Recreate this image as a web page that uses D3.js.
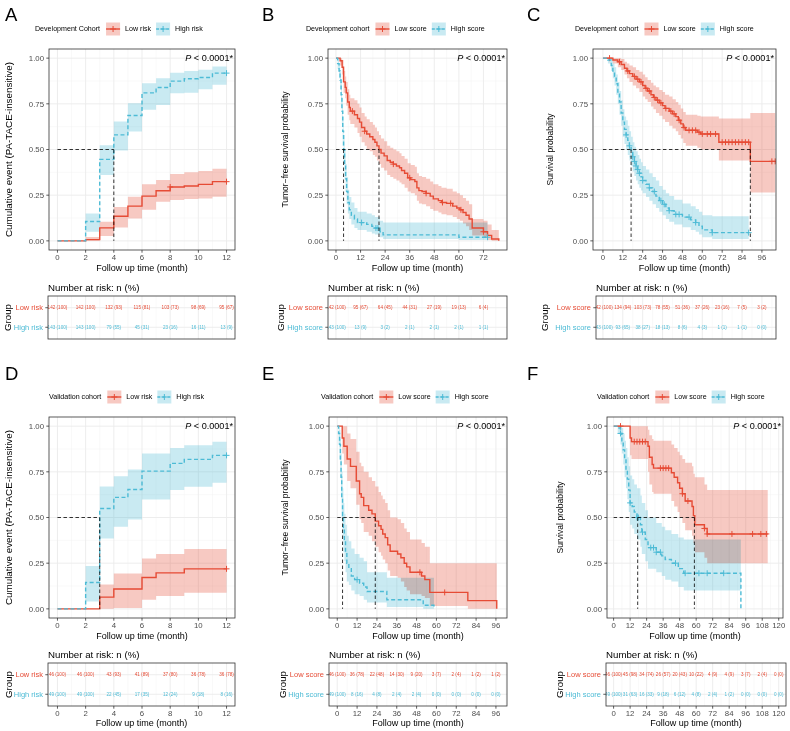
<!DOCTYPE html>
<html><head><meta charset="utf-8">
<script src="https://cdn.jsdelivr.net/npm/d3@7"></script>
<style>
body{margin:0;background:#fff}
svg text{font-family:"Liberation Sans",Arial,sans-serif}
</style></head><body>
<svg id="c" width="790" height="731"></svg>
<script>
// ---------------- DATA ----------------
// steps: [time, estimate, lower CI, upper CI]
const yTicks = [0, 0.25, 0.5, 0.75, 1];
const yMinor = [0.125, 0.375, 0.625, 0.875];

// Panel A (cumulative event)
const A_xTicks = [0, 2, 4, 6, 8, 10, 12];
const A_low = [[0,0,0,0],[2,0.007,0,0.021],[3,0.071,0.026,0.104],[4,0.135,0.073,0.186],[5,0.19,0.122,0.241],[6,0.245,0.17,0.31],[7,0.274,0.214,0.333],[8,0.295,0.223,0.366],[9,0.30,0.229,0.375],[10,0.309,0.232,0.382],[11,0.324,0.241,0.395]];
const A_lowEnd = 12;
const A_lowCensor = [8, 12];
const A_high = [[0,0,0,0],[2,0.106,0.05,0.15],[3,0.446,0.36,0.523],[4,0.58,0.494,0.653],[5,0.686,0.598,0.753],[6,0.81,0.717,0.863],[7,0.839,0.744,0.89],[8,0.874,0.808,0.92],[9,0.887,0.81,0.93],[10,0.894,0.83,0.936],[11,0.918,0.854,0.954]];
const A_highEnd = 12;
const A_highCensor = [12];
const A_medians = [4];
const A_riskTimes = [0, 2, 4, 6, 8, 10, 12];
const A_riskLow = ["142 (100)","142 (100)","132 (93)","115 (81)","103 (73)","98 (69)","95 (67)"];
const A_riskHigh = ["143 (100)","143 (100)","79 (55)","45 (31)","23 (16)","16 (11)","13 (9)"];

// Panel B (tumor-free survival, development)
const B_xTicks = [0, 12, 24, 36, 48, 60, 72];
const B_low = [[0,1,1,1],[2,0.986,0.96,1],[3,0.95,0.91,0.99],[3.7,0.87,0.81,0.93],[4.5,0.84,0.78,0.9],[5,0.81,0.74,0.87],[5.7,0.76,0.69,0.83],[6.5,0.73,0.66,0.80],[7,0.71,0.64,0.78],[9,0.69,0.62,0.77],[10.5,0.67,0.59,0.75],[11.5,0.65,0.57,0.73],[12.5,0.62,0.54,0.70],[14,0.60,0.52,0.68],[15,0.585,0.5,0.665],[16.5,0.57,0.49,0.65],[18,0.555,0.47,0.635],[19,0.54,0.46,0.62],[20,0.52,0.44,0.60],[21,0.50,0.42,0.58],[22,0.48,0.40,0.56],[23.5,0.465,0.385,0.545],[25,0.44,0.36,0.52],[26.5,0.43,0.35,0.51],[28,0.42,0.34,0.50],[29.5,0.41,0.33,0.49],[31,0.40,0.32,0.48],[32,0.385,0.31,0.465],[33.5,0.37,0.29,0.45],[35,0.345,0.27,0.425],[36.5,0.335,0.26,0.415],[38.5,0.325,0.25,0.405],[39.5,0.29,0.22,0.37],[40.5,0.275,0.205,0.355],[42,0.27,0.2,0.35],[44,0.26,0.19,0.34],[46,0.245,0.175,0.325],[47.5,0.23,0.165,0.31],[50,0.22,0.155,0.30],[51.5,0.21,0.145,0.29],[54,0.205,0.14,0.285],[57,0.19,0.13,0.27],[59,0.18,0.12,0.26],[60.5,0.17,0.11,0.25],[62,0.155,0.095,0.235],[63.5,0.14,0.08,0.22],[65,0.12,0.06,0.20],[66.5,0.07,0.03,0.12],[72,0.05,0.015,0.11],[74,0.03,0.005,0.09],[76,0.01,0,0.06],[79.5,0,0,0]];
const B_lowEnd = 79.5;
const B_lowCensor = [8, 14, 28, 36, 44, 52, 56, 61, 72];
const B_high = [[0,1,1,1],[0.8,0.97,0.94,1],[1.5,0.93,0.89,0.97],[2,0.88,0.83,0.93],[2.5,0.80,0.74,0.87],[2.9,0.71,0.64,0.78],[3.3,0.60,0.52,0.68],[3.7,0.50,0.42,0.58],[4.2,0.42,0.34,0.50],[4.7,0.34,0.27,0.42],[5.2,0.27,0.2,0.35],[5.8,0.21,0.15,0.28],[6.5,0.17,0.12,0.24],[7.5,0.14,0.09,0.21],[9,0.12,0.07,0.18],[10.5,0.10,0.06,0.16],[15,0.09,0.05,0.15],[17.5,0.08,0.04,0.14],[19,0.07,0.035,0.13],[21.5,0.05,0.02,0.11],[23,0.033,0.01,0.10],[60,0.02,0.005,0.10]];
const B_highEnd = 74;
const B_highCensor = [12.5, 19.5, 20.5, 74];
const B_medians = [3.7, 21];
const B_riskTimes = [0, 12, 24, 36, 48, 60, 72];
const B_riskLow = ["142 (100)","95 (67)","64 (45)","44 (31)","27 (19)","19 (13)","6 (4)"];
const B_riskHigh = ["143 (100)","13 (9)","3 (2)","2 (1)","2 (1)","2 (1)","1 (1)"];

// Panel C (overall survival, development)
const C_xTicks = [0, 12, 24, 36, 48, 60, 72, 84, 96];
const C_low = [[0,1,1,1],[6,0.99,0.97,1],[9,0.98,0.95,1],[11,0.965,0.935,0.995],[13,0.945,0.91,0.98],[14.5,0.93,0.89,0.97],[16,0.915,0.87,0.96],[18,0.90,0.85,0.95],[20,0.885,0.835,0.935],[22,0.87,0.815,0.925],[24,0.85,0.79,0.91],[25.5,0.835,0.775,0.895],[27,0.82,0.76,0.88],[29,0.80,0.735,0.865],[30.5,0.785,0.72,0.85],[32,0.77,0.70,0.84],[34,0.755,0.685,0.825],[36,0.74,0.665,0.815],[37.5,0.725,0.65,0.80],[40,0.71,0.63,0.79],[42,0.695,0.615,0.775],[44,0.68,0.60,0.76],[45.5,0.66,0.58,0.745],[47,0.64,0.56,0.725],[48.5,0.62,0.535,0.705],[50,0.605,0.52,0.69],[57,0.595,0.51,0.685],[59,0.585,0.50,0.68],[70,0.54,0.44,0.67],[89,0.435,0.265,0.70]];
const C_lowEnd = 104;
const C_lowCensor = [4, 10, 15, 19, 21, 23, 26, 28, 31, 33, 35, 38, 41, 43, 46, 49, 52, 54, 56, 58, 60, 63, 65, 68, 72, 74, 76, 78, 80, 82, 84, 86, 88, 102, 104];
const C_high = [[0,1,1,1],[3,0.99,0.97,1],[5,0.96,0.93,0.99],[6,0.93,0.89,0.97],[7,0.90,0.85,0.95],[8,0.86,0.80,0.91],[9,0.81,0.75,0.87],[10,0.76,0.69,0.82],[11,0.70,0.63,0.77],[12,0.65,0.57,0.72],[13,0.61,0.53,0.68],[14,0.58,0.50,0.66],[15,0.55,0.47,0.63],[16,0.52,0.44,0.60],[17,0.49,0.41,0.57],[18,0.46,0.38,0.54],[19,0.435,0.355,0.515],[20,0.41,0.33,0.49],[21,0.39,0.31,0.47],[22,0.37,0.29,0.45],[23,0.35,0.275,0.43],[24,0.33,0.26,0.41],[26,0.31,0.24,0.39],[28,0.29,0.22,0.37],[30,0.27,0.20,0.35],[32,0.245,0.18,0.33],[34,0.22,0.16,0.30],[36,0.20,0.14,0.28],[38,0.18,0.12,0.26],[40,0.165,0.105,0.245],[43,0.145,0.09,0.225],[48,0.13,0.075,0.205],[53,0.115,0.06,0.19],[56,0.10,0.05,0.175],[58,0.08,0.035,0.16],[60,0.06,0.02,0.14],[66,0.045,0.01,0.135]];
const C_highEnd = 88;
const C_highCensor = [14, 16, 18, 19, 20, 21, 22, 24, 28, 31, 35, 37, 40, 44, 46, 52, 56, 66, 88];
const C_medians = [17, 89];
const C_riskTimes = [0, 12, 24, 36, 48, 60, 72, 84, 96];
const C_riskLow = ["142 (100)","134 (94)","103 (73)","78 (55)","51 (36)","37 (26)","23 (16)","7 (5)","3 (2)"];
const C_riskHigh = ["143 (100)","93 (65)","38 (27)","18 (13)","8 (6)","4 (3)","1 (1)","1 (1)","0 (0)"];

// Panel D (cumulative event, validation)
const D_xTicks = [0, 2, 4, 6, 8, 10, 12];
const D_low = [[0,0,0,0],[3,0.064,0,0.133],[4,0.109,0.005,0.193],[6,0.172,0.05,0.276],[7,0.197,0.07,0.30],[9,0.219,0.088,0.328]];
const D_lowEnd = 12;
const D_lowCensor = [12];
const D_high = [[0,0,0,0],[2,0.144,0.04,0.234],[3,0.549,0.385,0.67],[4,0.61,0.449,0.726],[5,0.653,0.489,0.763],[6,0.754,0.599,0.85],[8,0.796,0.65,0.88],[9,0.818,0.668,0.896],[11,0.84,0.69,0.914]];
const D_highEnd = 12;
const D_highCensor = [12];
const D_medians = [3];
const D_riskTimes = [0, 2, 4, 6, 8, 10, 12];
const D_riskLow = ["46 (100)","46 (100)","43 (93)","41 (89)","37 (80)","36 (78)","36 (78)"];
const D_riskHigh = ["49 (100)","49 (100)","22 (45)","17 (35)","12 (24)","9 (18)","8 (16)"];

// Panel E (tumor-free survival, validation)
const E_xTicks = [0, 12, 24, 36, 48, 60, 72, 84, 96];
const E_low = [[0,1,1,1],[3,0.935,0.85,1],[4,0.89,0.79,1],[6,0.82,0.70,0.96],[8,0.78,0.66,0.93],[11.5,0.70,0.57,0.86],[13.5,0.63,0.49,0.80],[14.5,0.61,0.47,0.78],[16,0.565,0.42,0.75],[19,0.54,0.40,0.72],[21,0.52,0.37,0.70],[23,0.48,0.34,0.67],[25,0.455,0.31,0.64],[26.5,0.435,0.29,0.62],[27.5,0.41,0.27,0.60],[29,0.39,0.25,0.58],[30.5,0.35,0.21,0.54],[32,0.315,0.18,0.50],[36.5,0.30,0.17,0.49],[38.5,0.28,0.15,0.47],[40.5,0.25,0.12,0.44],[42,0.23,0.10,0.42],[44,0.20,0.08,0.38],[51,0.18,0.07,0.36],[53,0.16,0.06,0.34],[56,0.09,0.015,0.25],[79,0.045,0,0.25],[96.5,0,0,0]];
const E_lowEnd = 96.5;
const E_lowCensor = [50, 65];
const E_high = [[0,1,1,1],[0.8,0.96,0.90,1],[1.4,0.90,0.82,0.98],[1.9,0.82,0.72,0.93],[2.3,0.72,0.61,0.85],[2.7,0.61,0.49,0.75],[3.2,0.51,0.39,0.66],[3.7,0.43,0.31,0.58],[4.3,0.37,0.26,0.52],[5,0.31,0.20,0.46],[5.8,0.25,0.15,0.40],[7,0.22,0.13,0.37],[8.5,0.18,0.10,0.33],[10.5,0.16,0.08,0.30],[13.5,0.14,0.07,0.28],[16,0.12,0.05,0.26],[18,0.095,0.035,0.20],[30,0.05,0.01,0.17],[52,0.02,0,0.17],[58.5,0,0,0]];
const E_highEnd = 58.5;
const E_highCensor = [12];
const E_medians = [3.2, 23];
const E_riskTimes = [0, 12, 24, 36, 48, 60, 72, 84, 96];
const E_riskLow = ["46 (100)","36 (78)","22 (48)","14 (30)","9 (20)","3 (7)","2 (4)","1 (2)","1 (2)"];
const E_riskHigh = ["49 (100)","8 (16)","4 (8)","2 (4)","2 (4)","0 (0)","0 (0)","0 (0)","0 (0)"];

// Panel F (overall survival, validation)
const F_xTicks = [0, 12, 24, 36, 48, 60, 72, 84, 96, 108, 120];
const F_low = [[0,1,1,1],[12,0.935,0.84,1],[13,0.915,0.82,1],[25,0.89,0.75,0.98],[26,0.83,0.68,0.95],[28,0.79,0.64,0.93],[29,0.77,0.63,0.92],[42,0.745,0.59,0.90],[44,0.72,0.56,0.88],[46.5,0.69,0.53,0.86],[48,0.66,0.50,0.84],[50,0.63,0.47,0.82],[52,0.59,0.43,0.80],[57,0.56,0.40,0.78],[58,0.51,0.36,0.74],[59,0.46,0.31,0.72],[66,0.44,0.28,0.68],[68,0.41,0.25,0.65]];
const F_lowEnd = 112;
const F_lowCensor = [5, 15, 17, 19, 21, 23, 34, 36, 38, 40, 50, 54, 66, 68, 86, 101, 107, 111];
const F_high = [[0,1,1,1],[3,0.99,0.96,1],[5,0.96,0.90,1],[6,0.92,0.85,0.99],[7,0.87,0.79,0.96],[8,0.82,0.72,0.92],[9,0.76,0.66,0.88],[10,0.71,0.60,0.83],[11,0.65,0.53,0.78],[12,0.58,0.46,0.73],[13.5,0.56,0.44,0.71],[15,0.53,0.41,0.68],[17,0.50,0.38,0.66],[19.5,0.46,0.34,0.62],[20.5,0.42,0.30,0.58],[23,0.38,0.26,0.54],[25,0.335,0.22,0.50],[31,0.31,0.20,0.47],[35,0.29,0.18,0.45],[37.5,0.27,0.16,0.43],[42,0.25,0.15,0.41],[47,0.22,0.12,0.39],[51,0.195,0.10,0.38],[92.5,0,0,0]];
const F_highEnd = 92.5;
const F_highCensor = [5, 12, 17, 18, 21, 27, 29, 31, 34, 45, 52, 62, 68, 80];
const F_medians = [17.5, 58.7];
const F_riskTimes = [0, 12, 24, 36, 48, 60, 72, 84, 96, 108, 120];
const F_riskLow = ["46 (100)","45 (98)","34 (74)","26 (57)","20 (43)","10 (22)","4 (9)","4 (9)","3 (7)","2 (4)","0 (0)"];
const F_riskHigh = ["49 (100)","31 (63)","16 (33)","9 (18)","6 (12)","4 (8)","2 (4)","1 (2)","0 (0)","0 (0)","0 (0)"];

const riskGroups = ["Low risk", "High risk"];
const scoreGroups = ["Low score", "High score"];
const pText = "< 0.0001*";

// ---------------- DRAWING ----------------
const RED = "#E64B35", BLUE = "#4DBBD5";
const svg = d3.select("#c");

function minorOf(ticks, dom) {
  const out = [];
  const step = ticks[1] - ticks[0];
  for (let v = ticks[0] - step / 2; v <= dom[1]; v += step) if (v >= dom[0]) out.push(v);
  return out;
}
function stepVal(steps, t) {
  let v = steps[0][1];
  for (const s of steps) { if (s[0] <= t) v = s[1]; else break; }
  return v;
}

const panels = [
  {id:"A", letter:[5,21], L:49,R:235,T:49,B:250, xdom:[-0.6,12.6], xTicks:A_xTicks,
   curves:[{s:A_low,end:A_lowEnd,c:A_lowCensor,col:RED,dash:null},{s:A_high,end:A_highEnd,c:A_highCensor,col:BLUE,dash:"4,2.5"}],
   medians:A_medians, ytitle:"Cumulative event (PA-TACE-insensitive)", ytx:9, yts:9.8,
   legTitle:"Development Cohort", groups:riskGroups, legX:35, legY:29,
   tab:{L:48,R:235,T:296,B:339,times:A_riskTimes,low:A_riskLow,high:A_riskHigh,axis:false,gx:8}},
  {id:"B", letter:[262,21], L:328,R:507,T:49,B:250, xdom:[-3.9,83.5], xTicks:B_xTicks,
   curves:[{s:B_low,end:B_lowEnd,c:B_lowCensor,col:RED,dash:null},{s:B_high,end:B_highEnd,c:B_highCensor,col:BLUE,dash:"4,2.5"}],
   medians:B_medians, ytitle:"Tumor\u2212free survival probability", ytx:285, yts:8.5,
   legTitle:"Development cohort", groups:scoreGroups, legX:306, legY:29,
   tab:{L:328,R:507,T:296,B:339,times:B_riskTimes,low:B_riskLow,high:B_riskHigh,axis:false,gx:281}},
  {id:"C", letter:[527,21], L:593,R:776,T:49,B:250, xdom:[-6,104.5], xTicks:C_xTicks,
   curves:[{s:C_low,end:C_lowEnd,c:C_lowCensor,col:RED,dash:null},{s:C_high,end:C_highEnd,c:C_highCensor,col:BLUE,dash:"4,2.5"}],
   medians:C_medians, ytitle:"Survival probability", ytx:550, yts:8.6,
   legTitle:"Development cohort", groups:scoreGroups, legX:575, legY:29,
   tab:{L:596,R:776,T:296,B:339,times:C_riskTimes,low:C_riskLow,high:C_riskHigh,axis:false,gx:545}},
  {id:"D", letter:[5,380], L:49,R:235,T:417,B:618, xdom:[-0.6,12.6], xTicks:D_xTicks,
   curves:[{s:D_low,end:D_lowEnd,c:D_lowCensor,col:RED,dash:null},{s:D_high,end:D_highEnd,c:D_highCensor,col:BLUE,dash:"4,2.5"}],
   medians:D_medians, ytitle:"Cumulative event (PA-TACE-insensitive)", ytx:9, yts:9.8,
   legTitle:"Validation cohort", groups:riskGroups, legX:49, legY:397,
   tab:{L:48,R:235,T:663,B:706,times:D_riskTimes,low:D_riskLow,high:D_riskHigh,axis:true,gx:9}},
  {id:"E", letter:[262,380], L:329,R:507,T:417,B:618, xdom:[-5,102.7], xTicks:E_xTicks,
   curves:[{s:E_low,end:E_lowEnd,c:E_lowCensor,col:RED,dash:null},{s:E_high,end:E_highEnd,c:E_highCensor,col:BLUE,dash:"4,2.5"}],
   medians:E_medians, ytitle:"Tumor\u2212free survival probability", ytx:285, yts:8.5,
   legTitle:"Validation cohort", groups:scoreGroups, legX:321, legY:397,
   tab:{L:329,R:507,T:663,B:706,times:E_riskTimes,low:E_riskLow,high:E_riskHigh,axis:true,gx:283}},
  {id:"F", letter:[527,380], L:607,R:783,T:417,B:618, xdom:[-4.8,123.1], xTicks:F_xTicks,
   curves:[{s:F_low,end:F_lowEnd,c:F_lowCensor,col:RED,dash:null},{s:F_high,end:F_highEnd,c:F_highCensor,col:BLUE,dash:"4,2.5"}],
   medians:F_medians, ytitle:"Survival probability", ytx:560, yts:8.6,
   legTitle:"Validation cohort", groups:scoreGroups, legX:597, legY:397,
   tab:{L:606,R:786,T:663,B:706,times:F_riskTimes,low:F_riskLow,high:F_riskHigh,axis:true,gx:560}}
];

const defs = svg.append("defs");

function plusPath(cx, cy, r) {
  return `M${cx - r},${cy}H${cx + r}M${cx},${cy - r}V${cy + r}`;
}

function drawPanel(p) {
  const g = svg.append("g");
  const x = d3.scaleLinear().domain(p.xdom).range([p.L, p.R]);
  const y = d3.scaleLinear().domain([-0.05, 1.05]).range([p.B, p.T]);
  const xMinor = minorOf(p.xTicks, p.xdom);

  defs.append("clipPath").attr("id", "clip" + p.id).append("rect")
    .attr("x", p.L).attr("y", p.T).attr("width", p.R - p.L).attr("height", p.B - p.T);

  g.append("text").attr("x", p.letter[0]).attr("y", p.letter[1]).attr("font-size", 18.5)
    .attr("fill", "#000").text(p.id);

  g.append("rect").attr("x", p.L).attr("y", p.T).attr("width", p.R - p.L).attr("height", p.B - p.T).attr("fill", "#fff");
  const grid = g.append("g");
  xMinor.forEach(v => grid.append("line").attr("x1", x(v)).attr("x2", x(v)).attr("y1", p.T).attr("y2", p.B).attr("stroke", "#F2F2F2").attr("stroke-width", 0.5));
  yMinor.forEach(v => grid.append("line").attr("y1", y(v)).attr("y2", y(v)).attr("x1", p.L).attr("x2", p.R).attr("stroke", "#F2F2F2").attr("stroke-width", 0.5));
  p.xTicks.forEach(v => grid.append("line").attr("x1", x(v)).attr("x2", x(v)).attr("y1", p.T).attr("y2", p.B).attr("stroke", "#EBEBEB").attr("stroke-width", 0.9));
  yTicks.forEach(v => grid.append("line").attr("y1", y(v)).attr("y2", y(v)).attr("x1", p.L).attr("x2", p.R).attr("stroke", "#EBEBEB").attr("stroke-width", 0.9));

  const plot = g.append("g").attr("clip-path", `url(#clip${p.id})`);
  const area = d3.area().curve(d3.curveStepAfter).x(d => x(d[0])).y0(d => y(d[2])).y1(d => y(d[3]));
  const line = d3.line().curve(d3.curveStepAfter).x(d => x(d[0])).y(d => y(d[1]));
  const full = c => { const l = c.s[c.s.length - 1]; return c.s.concat([[c.end, l[1], l[2], l[3]]]); };

  p.curves.forEach(c => {
    plot.append("path").attr("d", area(full(c))).attr("fill", c.col).attr("fill-opacity", 0.3)
      .style("mix-blend-mode", "multiply");
  });
  p.curves.forEach(c => {
    plot.append("path").attr("d", line(full(c))).attr("fill", "none").attr("stroke", c.col)
      .attr("stroke-width", 1.4).attr("stroke-dasharray", c.dash);
    plot.append("path").attr("d", c.c.map(t => plusPath(x(t), y(stepVal(c.s, t)), 3)).join(""))
      .attr("stroke", c.col).attr("stroke-width", 1).attr("fill", "none");
  });
  const mx = d3.max(p.medians);
  const med = plot.append("g").attr("stroke", "#000").attr("stroke-width", 0.8).attr("stroke-dasharray", "3.5,2.5").attr("fill", "none");
  med.append("line").attr("x1", x(0)).attr("x2", x(mx)).attr("y1", y(0.5)).attr("y2", y(0.5));
  p.medians.forEach(m => med.append("line").attr("x1", x(m)).attr("x2", x(m)).attr("y1", y(0.5)).attr("y2", y(0)));

  g.append("rect").attr("x", p.L).attr("y", p.T).attr("width", p.R - p.L).attr("height", p.B - p.T)
    .attr("fill", "none").attr("stroke", "#333").attr("stroke-width", 0.8);

  const ax = g.append("g");
  yTicks.forEach(v => {
    ax.append("line").attr("x1", p.L - 2.7).attr("x2", p.L).attr("y1", y(v)).attr("y2", y(v)).attr("stroke", "#333").attr("stroke-width", 0.8);
    ax.append("text").attr("x", p.L - 5).attr("y", y(v)).attr("dy", "0.35em").attr("text-anchor", "end")
      .attr("font-size", 7.8).attr("fill", "#4D4D4D").text(d3.format(".2f")(v));
  });
  p.xTicks.forEach(v => {
    ax.append("line").attr("x1", x(v)).attr("x2", x(v)).attr("y1", p.B).attr("y2", p.B + 2.7).attr("stroke", "#333").attr("stroke-width", 0.8);
    ax.append("text").attr("x", x(v)).attr("y", p.B + 7).attr("dy", "0.35em").attr("text-anchor", "middle")
      .attr("font-size", 7.8).attr("fill", "#4D4D4D").text(v);
  });
  ax.append("text").attr("x", (p.L + p.R) / 2).attr("y", p.B + 17.5).attr("dy", "0.35em").attr("text-anchor", "middle")
    .attr("font-size", 9).attr("fill", "#000").text("Follow up time (month)");
  ax.append("text").attr("transform", `translate(${p.ytx},${(p.T + p.B) / 2}) rotate(-90)`).attr("dy", "0.35em")
    .attr("text-anchor", "middle").attr("font-size", p.yts).attr("fill", "#000").text(p.ytitle);

  const pt = ax.append("text").attr("x", p.R - 2).attr("y", y(1)).attr("dy", "0.35em").attr("text-anchor", "end")
    .attr("font-size", 9.1).attr("fill", "#000");
  pt.append("tspan").attr("font-style", "italic").text("P");
  pt.append("tspan").text(" " + pText);

  const lg = g.append("g");
  let cx = p.legX;
  const t0 = lg.append("text").attr("x", cx).attr("y", p.legY).attr("dy", "0.35em").attr("font-size", 7.1).text(p.legTitle);
  cx += t0.node().getComputedTextLength() + 6;
  p.curves.forEach((c, i) => {
    lg.append("rect").attr("x", cx).attr("y", p.legY - 6.5).attr("width", 14).attr("height", 13).attr("fill", c.col).attr("fill-opacity", 0.3);
    lg.append("line").attr("x1", cx).attr("x2", cx + 14).attr("y1", p.legY).attr("y2", p.legY).attr("stroke", c.col)
      .attr("stroke-width", 1.4).attr("stroke-dasharray", c.dash ? "3,2" : null);
    lg.append("path").attr("d", plusPath(cx + 7, p.legY, 3)).attr("stroke", c.col).attr("stroke-width", 1);
    cx += 19;
    const tt = lg.append("text").attr("x", cx).attr("y", p.legY).attr("dy", "0.35em").attr("font-size", 7.1).text(p.groups[i]);
    cx += tt.node().getComputedTextLength() + 5;
  });

  drawTable(p, x);
}

function drawTable(p, x) {
  const t = p.tab;
  const g = svg.append("g");
  const y = d3.scaleLinear().domain([0.4, 2.6]).range([t.B, t.T]);
  const xMinor = minorOf(p.xTicks, p.xdom);
  defs.append("clipPath").attr("id", "tclip" + p.id).append("rect")
    .attr("x", t.L).attr("y", t.T).attr("width", t.R - t.L).attr("height", t.B - t.T);
  g.append("text").attr("x", t.L).attr("y", t.T - 8).attr("dy", "0.35em").attr("font-size", 9.7).attr("fill", "#000")
    .text("Number at risk: n (%)");
  g.append("rect").attr("x", t.L).attr("y", t.T).attr("width", t.R - t.L).attr("height", t.B - t.T).attr("fill", "#fff");
  const inner = g.append("g").attr("clip-path", `url(#tclip${p.id})`);
  xMinor.forEach(v => inner.append("line").attr("x1", x(v)).attr("x2", x(v)).attr("y1", t.T).attr("y2", t.B).attr("stroke", "#F2F2F2").attr("stroke-width", 0.5));
  p.xTicks.forEach(v => inner.append("line").attr("x1", x(v)).attr("x2", x(v)).attr("y1", t.T).attr("y2", t.B).attr("stroke", "#EBEBEB").attr("stroke-width", 0.9));
  [1, 2].forEach(v => inner.append("line").attr("x1", t.L).attr("x2", t.R).attr("y1", y(v)).attr("y2", y(v)).attr("stroke", "#EBEBEB").attr("stroke-width", 0.9));
  t.times.forEach((tm, i) => {
    inner.append("text").attr("x", x(tm)).attr("y", y(2)).attr("dy", "0.35em").attr("text-anchor", "middle")
      .attr("font-size", 4.6).attr("fill", RED).text(t.low[i]);
    inner.append("text").attr("x", x(tm)).attr("y", y(1)).attr("dy", "0.35em").attr("text-anchor", "middle")
      .attr("font-size", 4.6).attr("fill", BLUE).text(t.high[i]);
  });
  g.append("rect").attr("x", t.L).attr("y", t.T).attr("width", t.R - t.L).attr("height", t.B - t.T)
    .attr("fill", "none").attr("stroke", "#333").attr("stroke-width", 0.8);
  [[2, p.groups[0], RED], [1, p.groups[1], BLUE]].forEach(([v, lab, col]) => {
    g.append("line").attr("x1", t.L - 2.7).attr("x2", t.L).attr("y1", y(v)).attr("y2", y(v)).attr("stroke", "#333").attr("stroke-width", 0.8);
    g.append("text").attr("x", t.L - 5).attr("y", y(v)).attr("dy", "0.35em").attr("text-anchor", "end")
      .attr("font-size", 7.5).attr("fill", col).text(lab);
  });
  g.append("text").attr("transform", `translate(${t.gx},${(t.T + t.B) / 2}) rotate(-90)`).attr("dy", "0.35em")
    .attr("text-anchor", "middle").attr("font-size", 9.7).attr("fill", "#000").text("Group");
  if (t.axis) {
    p.xTicks.forEach(v => {
      g.append("line").attr("x1", x(v)).attr("x2", x(v)).attr("y1", t.B).attr("y2", t.B + 2.7).attr("stroke", "#333").attr("stroke-width", 0.8);
      g.append("text").attr("x", x(v)).attr("y", t.B + 7).attr("dy", "0.35em").attr("text-anchor", "middle")
        .attr("font-size", 7.8).attr("fill", "#4D4D4D").text(v);
    });
    g.append("text").attr("x", (t.L + t.R) / 2).attr("y", t.B + 16.5).attr("dy", "0.35em").attr("text-anchor", "middle")
      .attr("font-size", 9).attr("fill", "#000").text("Follow up time (month)");
  }
}

panels.forEach(drawPanel);
</script>
</body></html>
